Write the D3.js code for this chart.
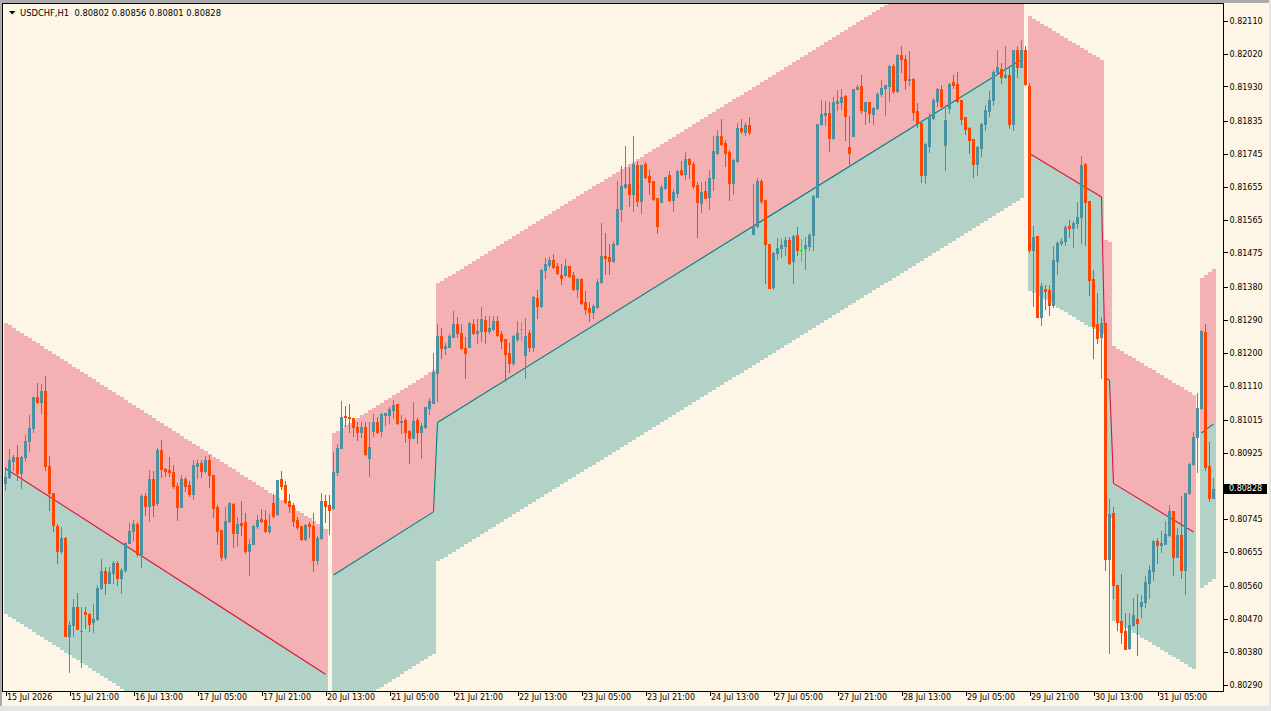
<!DOCTYPE html>
<html>
<head>
<meta charset="utf-8">
<script src="https://cdn.jsdelivr.net/npm/d3@7"></script>
<style>
  html, body { margin: 0; padding: 0; background: #FDF5E6; overflow: hidden; }
  svg { display: block; }
</style>
</head>
<body>
<div id="chart"></div>
<script>
const symbol = 'USDCHF,H1';

// prices in points (1e-5), one entry per H1 bar, oldest first
const open = [
  80842, 80859, 80904, 80914, 80871, 80914, 80957, 80993, 81078, 81065,
  81095, 80890, 80815, 80725, 80658, 80691, 80425, 80454, 80502, 80437,
  80489, 80483, 80461, 80469, 80554, 80601, 80570, 80596, 80625, 80582,
  80605, 80680, 80712, 80731, 80648, 80808, 80781, 80854, 80787, 80934,
  80882, 80879, 80872, 80834, 80778, 80854, 80837, 80812, 80890, 80897,
  80877, 80906, 80866, 80777, 80714, 80641, 80740, 80785, 80707, 80733,
  80735, 80657, 80677, 80725, 80744, 80741, 80712, 80788, 80757, 80854,
  80837, 80793, 80782, 80741, 80725, 80689, 80731, 80725, 80632, 80691,
  80795, 80784, 80775, 80872, 80938, 81027, 81025, 81020, 80996, 80984,
  80996, 80911, 80987, 81009, 80987, 81030, 81030, 81043, 81060, 81009,
  81016, 80986, 80967, 81016, 80984, 80996, 81050, 81063, 81144, 81246,
  81212, 81217, 81244, 81279, 81255, 81212, 81217, 81279, 81253, 81261,
  81290, 81261, 81265, 81286, 81252, 81237, 81199, 81171, 81239, 81265,
  81195, 81253, 81215, 81351, 81329, 81426, 81440, 81454, 81437, 81413,
  81413, 81437, 81413, 81376, 81402, 81338, 81323, 81312, 81326, 81393,
  81465, 81462, 81452, 81497, 81593, 81655, 81664, 81635, 81716, 81617,
  81717, 81684, 81670, 81623, 81614, 81653, 81687, 81618, 81638, 81701,
  81689, 81731, 81717, 81659, 81611, 81643, 81627, 81678, 81748, 81794,
  81774, 81749, 81666, 81726, 81815, 81806, 81824, 81525, 81548, 81670,
  81618, 81497, 81381, 81474, 81486, 81493, 81508, 81452, 81522, 81483,
  81486, 81493, 81522, 81627, 81826, 81853, 81858, 81789, 81885, 81888,
  81903, 81763, 81795, 81922, 81931, 81863, 81888, 81854, 81870, 81909,
  81927, 81932, 81986, 81917, 82016, 82004, 81948, 81950, 81863, 81830,
  81687, 81766, 81844, 81890, 81922, 81769, 81872, 81942, 81936, 81893,
  81845, 81815, 81785, 81717, 81762, 81827, 81863, 81892, 81970, 81979,
  81955, 81961, 81827, 82030, 81984, 82030, 81931, 81482, 81520, 81299,
  81375, 81372, 81331, 81452, 81500, 81507, 81548, 81543, 81557, 81573,
  81718, 81616, 81401, 81279, 81244, 81283, 80636, 80760, 80563, 80465,
  80437, 80390, 80453, 80470, 80506, 80516, 80570, 80602, 80684, 80673,
  80677, 80700, 80766, 80641, 80700, 80606, 80815, 80895, 80968, 81050,
  81256, 80890, 80802
];

const high = [
  80888, 80935, 80920, 80947, 80917, 80975, 81030, 81078, 81116, 81115,
  81137, 80917, 80815, 80731, 80723, 80696, 80466, 80524, 80541, 80502,
  80502, 80486, 80511, 80563, 80634, 80614, 80614, 80629, 80629, 80609,
  80682, 80734, 80742, 80737, 80813, 80815, 80879, 80877, 80940, 80961,
  80885, 80914, 80892, 80842, 80865, 80860, 80848, 80906, 80906, 80906,
  80917, 80921, 80866, 80784, 80714, 80777, 80792, 80789, 80750, 80793,
  80762, 80689, 80728, 80755, 80771, 80770, 80757, 80813, 80851, 80876,
  80848, 80814, 80787, 80749, 80725, 80730, 80735, 80762, 80698, 80817,
  80810, 80810, 80929, 80951, 81068, 81054, 81060, 81020, 81009, 81010,
  81011, 81011, 81032, 81023, 81036, 81036, 81052, 81071, 81060, 81030,
  81020, 80988, 81064, 81020, 81007, 81052, 81075, 81200, 81279, 81267,
  81226, 81252, 81315, 81297, 81279, 81243, 81285, 81292, 81292, 81325,
  81301, 81301, 81301, 81301, 81261, 81237, 81226, 81249, 81286, 81285,
  81296, 81262, 81356, 81372, 81431, 81460, 81463, 81470, 81445, 81442,
  81457, 81437, 81422, 81405, 81404, 81369, 81340, 81335, 81402, 81557,
  81529, 81498, 81507, 81671, 81712, 81766, 81710, 81794, 81726, 81716,
  81722, 81701, 81670, 81623, 81659, 81682, 81699, 81650, 81701, 81725,
  81749, 81733, 81722, 81668, 81668, 81670, 81702, 81794, 81810, 81840,
  81783, 81755, 81730, 81830, 81842, 81833, 81845, 81664, 81680, 81676,
  81618, 81497, 81476, 81515, 81513, 81516, 81516, 81522, 81545, 81513,
  81518, 81529, 81632, 81828, 81892, 81890, 81888, 81900, 81920, 81922,
  81906, 81848, 81924, 81933, 81961, 81888, 81888, 81874, 81915, 81947,
  81934, 81988, 81991, 82019, 82041, 82016, 82027, 81952, 81885, 81830,
  81774, 81856, 81897, 81926, 81934, 81879, 81940, 81961, 81970, 81893,
  81845, 81818, 81785, 81766, 81830, 81879, 81918, 81975, 82031, 81995,
  82041, 81984, 82031, 82041, 82058, 82041, 81940, 81548, 81520, 81390,
  81386, 81386, 81493, 81507, 81514, 81550, 81564, 81560, 81614, 81740,
  81721, 81616, 81427, 81363, 81299, 81283, 80798, 80776, 80563, 80593,
  80486, 80486, 80529, 80540, 80536, 80588, 80618, 80688, 80693, 80712,
  80739, 80783, 80766, 80720, 80807, 80815, 80897, 80984, 81091, 81262,
  81279, 80956, 80856
];

const low = [
  80824, 80856, 80879, 80851, 80829, 80906, 80932, 80984, 81063, 81036,
  80879, 80769, 80712, 80625, 80652, 80425, 80326, 80425, 80442, 80338,
  80447, 80438, 80436, 80468, 80552, 80538, 80568, 80568, 80563, 80542,
  80600, 80678, 80687, 80643, 80614, 80755, 80740, 80754, 80783, 80859,
  80862, 80862, 80830, 80741, 80778, 80821, 80808, 80799, 80857, 80860,
  80872, 80833, 80750, 80676, 80632, 80636, 80737, 80668, 80671, 80700,
  80650, 80592, 80675, 80720, 80737, 80709, 80705, 80750, 80755, 80828,
  80787, 80764, 80726, 80718, 80686, 80686, 80696, 80602, 80622, 80689,
  80737, 80702, 80773, 80865, 80938, 80999, 80984, 80972, 80961, 80970,
  80920, 80863, 80972, 80979, 80972, 81002, 81007, 81020, 81005, 80979,
  80956, 80899, 80967, 80954, 80913, 80993, 81032, 81062, 81069, 81187,
  81196, 81215, 81242, 81244, 81210, 81132, 81215, 81251, 81228, 81231,
  81228, 81253, 81263, 81246, 81212, 81123, 81148, 81167, 81231, 81235,
  81131, 81205, 81205, 81294, 81326, 81404, 81436, 81433, 81417, 81388,
  81411, 81408, 81373, 81353, 81335, 81305, 81287, 81296, 81323, 81390,
  81415, 81415, 81449, 81495, 81561, 81652, 81603, 81589, 81603, 81584,
  81680, 81634, 81618, 81527, 81612, 81649, 81617, 81589, 81626, 81687,
  81676, 81678, 81653, 81518, 81586, 81623, 81595, 81646, 81746, 81769,
  81711, 81618, 81636, 81723, 81803, 81796, 81799, 81525, 81545, 81611,
  81391, 81378, 81376, 81458, 81463, 81467, 81444, 81391, 81467, 81452,
  81431, 81483, 81483, 81627, 81824, 81824, 81753, 81787, 81865, 81867,
  81783, 81717, 81794, 81922, 81856, 81828, 81833, 81827, 81867, 81903,
  81851, 81890, 81911, 81915, 81970, 81922, 81934, 81838, 81818, 81669,
  81666, 81751, 81842, 81876, 81874, 81701, 81858, 81927, 81888, 81827,
  81799, 81748, 81682, 81687, 81739, 81810, 81849, 81879, 81967, 81940,
  81952, 81815, 81810, 81956, 81982, 81935, 81477, 81328, 81299, 81276,
  81319, 81304, 81326, 81416, 81496, 81496, 81516, 81489, 81541, 81502,
  81496, 81358, 81185, 81228, 81130, 80604, 80378, 80527, 80440, 80405,
  80387, 80387, 80451, 80371, 80476, 80502, 80529, 80577, 80623, 80655,
  80676, 80698, 80591, 80639, 80582, 80540, 80813, 80893, 80874, 81047,
  80880, 80795, 80801
];

const close = [
  80859, 80906, 80914, 80871, 80914, 80958, 80993, 81078, 81065, 81095,
  80891, 80817, 80727, 80658, 80691, 80425, 80454, 80502, 80444, 80438,
  80484, 80458, 80469, 80554, 80601, 80570, 80598, 80623, 80584, 80605,
  80680, 80712, 80731, 80648, 80808, 80781, 80854, 80783, 80934, 80881,
  80876, 80872, 80834, 80778, 80854, 80835, 80812, 80892, 80897, 80877,
  80906, 80865, 80775, 80712, 80641, 80740, 80788, 80707, 80732, 80727,
  80657, 80677, 80725, 80743, 80739, 80712, 80725, 80753, 80851, 80835,
  80792, 80780, 80739, 80723, 80689, 80728, 80726, 80632, 80691, 80795,
  80781, 80770, 80872, 80940, 81025, 81023, 81020, 80996, 80984, 80996,
  80922, 80943, 81009, 80984, 81032, 81034, 81045, 81057, 81007, 81013,
  80984, 80967, 81013, 80984, 80999, 81052, 81069, 81146, 81246, 81212,
  81219, 81246, 81279, 81253, 81212, 81199, 81283, 81253, 81261, 81292,
  81261, 81267, 81286, 81249, 81233, 81197, 81171, 81246, 81253, 81265,
  81246, 81215, 81353, 81329, 81426, 81442, 81454, 81436, 81419, 81405,
  81437, 81411, 81376, 81402, 81337, 81319, 81312, 81328, 81393, 81465,
  81460, 81452, 81498, 81594, 81657, 81664, 81635, 81717, 81617, 81716,
  81682, 81669, 81621, 81548, 81655, 81681, 81618, 81641, 81698, 81689,
  81731, 81717, 81657, 81614, 81641, 81625, 81678, 81752, 81794, 81772,
  81748, 81666, 81728, 81815, 81807, 81824, 81806, 81548, 81670, 81616,
  81497, 81378, 81474, 81486, 81495, 81508, 81447, 81519, 81483, 81483,
  81495, 81522, 81629, 81828, 81854, 81858, 81789, 81888, 81890, 81901,
  81849, 81748, 81924, 81929, 81865, 81888, 81856, 81870, 81909, 81927,
  81934, 81986, 81917, 82016, 82004, 81949, 81951, 81860, 81830, 81687,
  81772, 81845, 81892, 81922, 81876, 81838, 81938, 81935, 81891, 81840,
  81813, 81783, 81717, 81763, 81828, 81865, 81892, 81970, 81982, 81955,
  81961, 81828, 82030, 81984, 82030, 81938, 81482, 81518, 81299, 81383,
  81370, 81331, 81454, 81500, 81507, 81546, 81543, 81557, 81573, 81715,
  81614, 81400, 81273, 81241, 81283, 80636, 80757, 80563, 80463, 80435,
  80387, 80455, 80481, 80460, 80518, 80571, 80604, 80684, 80673, 80679,
  80703, 80766, 80641, 80700, 80606, 80815, 80895, 80968, 81050, 81260,
  80888, 80803, 80828
];

// channel segments: first bar, last bar, middle line at both ends, half width (points)
const bandStart   = [1,     83,    109,   257,   276,   278,   300];
const bandEnd     = [81,    108,   255,   275,   277,   298,   303];
const bandMidFrom = [80883, 80591, 81009, 81746, 81131, 80842, 80980];
const bandMidTo   = [80319, 80764, 82004, 81627, 81125, 80709, 81005];
const bandHalf    = [399,   389,   381,   376,   378,   376,   425];

const priceTicks = [82110, 82020, 81930, 81835, 81745, 81655, 81565, 81475, 81380, 81290,
  81200, 81110, 81015, 80925, 80745, 80655, 80560, 80470, 80380, 80290];

const timeTickBars = [1, 17, 33, 49, 65, 81, 97, 113, 129, 145, 161, 177, 193, 209, 225, 241, 257, 273, 289];
const timeTickLabels = ['15 Jul 2026', '15 Jul 21:00', '16 Jul 13:00', '17 Jul 05:00', '17 Jul 21:00',
  '20 Jul 13:00', '21 Jul 05:00', '21 Jul 21:00', '22 Jul 13:00', '23 Jul 05:00', '23 Jul 21:00',
  '24 Jul 13:00', '27 Jul 05:00', '27 Jul 21:00', '28 Jul 13:00', '29 Jul 05:00', '29 Jul 21:00',
  '30 Jul 13:00', '31 Jul 05:00'];

const width = 1271;
const height = 711;
const plot = { left: 3, top: 4, right: 1223, bottom: 691 };

const bg = '#FDF5E6';
const bandUpColor = '#F4B1B3';
const bandDownColor = '#B3D2C7';
const bullColor = '#4A92A2';
const bearColor = '#FF4500';
const dojiColor = '#00FF00';
const lineDown = '#DC143C';
const lineUp = '#008080';
const font = '"DejaVu Sans", Verdana, sans-serif';

const fmt = v => (v / 1e5).toFixed(5);

const xScale = d3.scaleLinear().domain([1, open.length]).range([5.5, 5.5 + (open.length - 1) * 4]);
const yScale = d3.scaleLinear().domain([82156, 80273]).range([plot.top, plot.bottom]);
const py = v => Math.round(yScale(v));

const svg = d3.select('#chart').append('svg')
    .attr('width', width)
    .attr('height', height);

svg.append('rect').attr('width', width).attr('height', height).attr('fill', bg);

svg.append('clipPath').attr('id', 'plot-clip')
  .append('rect')
    .attr('x', plot.left)
    .attr('y', plot.top)
    .attr('width', plot.right - plot.left)
    .attr('height', plot.bottom - plot.top);

const g = svg.append('g').attr('clip-path', 'url(#plot-clip)');

function drawBands() {
    const gBands = g.append('g').attr('shape-rendering', 'crispEdges');

    bandStart.forEach((start, s) => {
        const midAt = d3.scaleLinear().domain([start, bandEnd[s]]).range([bandMidFrom[s], bandMidTo[s]]);
        const bars = d3.range(start, bandEnd[s] + 1);

        gBands.selectAll(null)
            .data(bars)
            .enter()
            .append('rect')
            .attr('x', d => xScale(d) - 1.5)
            .attr('width', 4)
            .attr('y', d => py(midAt(d) + bandHalf[s]))
            .attr('height', d => py(midAt(d)) - py(midAt(d) + bandHalf[s]))
            .attr('fill', bandUpColor);

        gBands.selectAll(null)
            .data(bars)
            .enter()
            .append('rect')
            .attr('x', d => xScale(d) - 1.5)
            .attr('width', 4)
            .attr('y', d => py(midAt(d)))
            .attr('height', d => py(midAt(d) - bandHalf[s]) - py(midAt(d)))
            .attr('fill', bandDownColor);
    });
}

function drawMidLines() {
    const pieces = [];
    bandStart.forEach((start, s) => {
        if (s > 0 && start === bandEnd[s - 1] + 1) {
            pieces.push([[bandEnd[s - 1], bandMidTo[s - 1]], [start, bandMidFrom[s]]]);
        }
        pieces.push([[start, bandMidFrom[s]], [bandEnd[s], bandMidTo[s]]]);
    });

    const line = d3.line()
        .x(d => xScale(d[0]))
        .y(d => yScale(d[1]));

    g.append('g')
        .selectAll('path')
        .data(pieces)
        .enter()
        .append('path')
        .attr('d', line)
        .attr('fill', 'none')
        .attr('stroke', d => d[1][1] < d[0][1] ? lineDown : lineUp)
        .attr('stroke-width', 1.1);
}

function drawCandles() {
    const candles = open.map((o, i) => ({
        bar: i + 1, o: o, h: high[i], l: low[i], c: close[i]
    }));
    const colorOf = d => d.c > d.o ? bullColor : (d.c < d.o ? bearColor : dojiColor);

    const gc = g.append('g').attr('shape-rendering', 'crispEdges');

    gc.selectAll('.wick')
        .data(candles)
        .enter()
        .append('line')
        .attr('class', 'wick')
        .attr('x1', d => xScale(d.bar))
        .attr('x2', d => xScale(d.bar))
        .attr('y1', d => py(d.h))
        .attr('y2', d => py(d.l) + 1)
        .attr('stroke', colorOf)
        .attr('stroke-width', 1);

    gc.selectAll('.body')
        .data(candles)
        .enter()
        .append('rect')
        .attr('class', 'body')
        .attr('x', d => xScale(d.bar) - 1.5)
        .attr('width', 3)
        .attr('y', d => py(Math.max(d.o, d.c)))
        .attr('height', d => Math.max(1, py(Math.min(d.o, d.c)) - py(Math.max(d.o, d.c)) + 1))
        .attr('fill', colorOf);
}

function drawFrame() {
    svg.append('rect').attr('x', 0).attr('y', 0).attr('width', width).attr('height', 3).attr('fill', '#ABABAB');
    svg.append('rect').attr('x', 0).attr('y', 0).attr('width', 2).attr('height', height).attr('fill', '#ABABAB');
    svg.append('rect').attr('x', 0).attr('y', 706).attr('width', width).attr('height', 5).attr('fill', '#E4E4E4');
    svg.append('rect').attr('x', 1269).attr('y', 0).attr('width', 2).attr('height', height).attr('fill', '#E4E4E4');

    svg.append('rect')
        .attr('x', plot.left - 0.5)
        .attr('y', plot.top - 0.5)
        .attr('width', plot.right - plot.left + 1)
        .attr('height', plot.bottom - plot.top + 1)
        .attr('fill', 'none')
        .attr('stroke', '#000')
        .attr('stroke-width', 1)
        .attr('shape-rendering', 'crispEdges');
}

function drawAxes() {
    const yAxis = d3.axisRight(yScale)
        .tickValues(priceTicks)
        .tickSize(4)
        .tickPadding(2)
        .tickFormat(fmt);

    const gy = svg.append('g')
        .attr('transform', `translate(${plot.right + 0.5},0)`)
        .call(yAxis);
    gy.select('.domain').remove();
    gy.selectAll('text')
        .attr('font-family', font)
        .attr('font-size', '8px')
        .attr('fill', '#000');
    gy.selectAll('line').attr('shape-rendering', 'crispEdges');

    const xAxis = d3.axisBottom(xScale)
        .tickValues(timeTickBars)
        .tickSize(4)
        .tickFormat((d, i) => timeTickLabels[i]);

    const gx = svg.append('g')
        .attr('transform', `translate(0,${plot.bottom + 0.5})`)
        .call(xAxis);
    gx.select('.domain').remove();
    gx.selectAll('text')
        .attr('font-family', font)
        .attr('font-size', '8px')
        .attr('fill', '#000')
        .attr('text-anchor', 'start')
        .attr('x', 1)
        .attr('y', 3);
    gx.selectAll('line').attr('shape-rendering', 'crispEdges');
}

function drawHeader() {
    svg.append('path')
        .attr('d', 'M9,11 L15.5,11 L12.25,14.5 Z')
        .attr('fill', '#000');

    const last = open.length - 1;
    svg.append('text')
        .attr('x', 20)
        .attr('y', 16)
        .attr('font-family', font)
        .attr('font-size', '8.4px')
        .attr('fill', '#000')
        .style('white-space', 'pre')
        .text(`${symbol}  ${fmt(open[last])} ${fmt(high[last])} ${fmt(low[last])} ${fmt(close[last])}`);

    const yc = yScale(close[last]);
    svg.append('rect')
        .attr('x', plot.right + 1)
        .attr('y', Math.round(yc) - 5)
        .attr('width', 43)
        .attr('height', 10)
        .attr('fill', '#000');
    svg.append('text')
        .attr('x', plot.right + 6)
        .attr('y', yc)
        .attr('dy', '0.35em')
        .attr('font-family', font)
        .attr('font-size', '8px')
        .attr('fill', '#fff')
        .text(fmt(close[last]));
}

drawBands();
drawMidLines();
drawCandles();
drawFrame();
drawAxes();
drawHeader();
</script>
</body>
</html>
